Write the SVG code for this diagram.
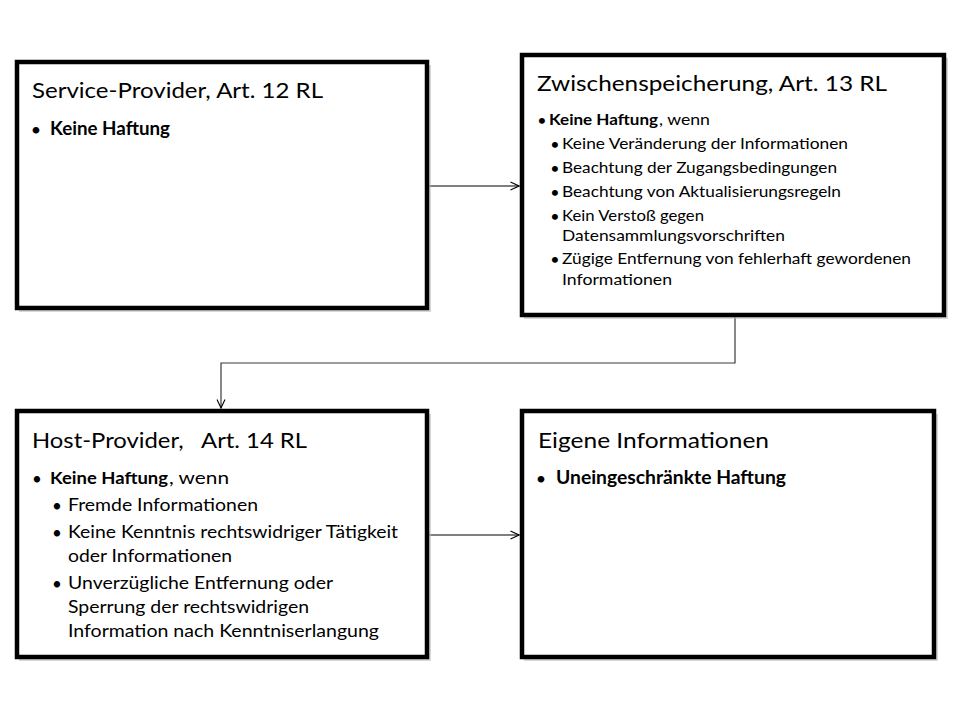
<svg xmlns="http://www.w3.org/2000/svg" width="960" height="720" viewBox="0 0 960 720">
<defs>
<marker id="arr" viewBox="0 0 10 10" refX="9.5" refY="5" markerWidth="10" markerHeight="10" markerUnits="userSpaceOnUse" orient="auto">
<path d="M1,1 L9.5,5 L1,9" fill="none" stroke="#000" stroke-width="1.1"/>
</marker>
</defs>
<style>
.box{fill:#fff;stroke:#000;stroke-width:4.5}
.sh{fill:#bdbdbd;opacity:0.6}
.t{font-family:Lato,"Liberation Sans",sans-serif;fill:#000}
.title{font-size:22px}
.b{font-weight:bold}
.s16{font-size:16px}
.s17{font-size:17px}
.s18{font-size:18px}
.con{fill:none;stroke:#000;stroke-width:1.2}
.con2{fill:none;stroke:#3a3a3a;stroke-width:1.2}
</style>
<rect width="960" height="720" fill="#fff"/>

<g id="connectors">
<line class="con" x1="429" y1="186" x2="519" y2="186" marker-end="url(#arr)"/>
<path class="con2" d="M735,317 V363 H221 V408" marker-end="url(#arr)"/>
<line class="con" x1="429" y1="535" x2="519" y2="535" marker-end="url(#arr)"/>
</g>

<g id="service-provider">
<rect class="sh" x="19" y="65" width="412" height="247"/>
<rect class="box" x="17" y="62" width="410" height="246"/>
<text class="t title" x="32" y="98" textLength="291" lengthAdjust="spacingAndGlyphs">Service-Provider, Art. 12 RL</text>
<text class="t s18" x="36" y="136" text-anchor="middle">•</text>
<text class="t s18 b" x="50" y="135" textLength="120" lengthAdjust="spacingAndGlyphs">Keine Haftung</text>
</g>

<g id="zwischenspeicherung">
<rect class="sh" x="524" y="58" width="424" height="261"/>
<rect class="box" x="522" y="55" width="422" height="260"/>
<text class="t title" x="537" y="91" textLength="350" lengthAdjust="spacingAndGlyphs">Zwischenspeicherung, Art. 13 RL</text>
<text class="t s16" x="542" y="126" text-anchor="middle">•</text>
<text class="t s16 b" x="549" y="125" textLength="109" lengthAdjust="spacingAndGlyphs">Keine Haftung</text>
<text class="t s16" x="659" y="125" textLength="51" lengthAdjust="spacingAndGlyphs">, wenn</text>
<g class="t s16">
<text x="555" y="150" text-anchor="middle">•</text>
<text x="562" y="149" textLength="286" lengthAdjust="spacingAndGlyphs">Keine Veränderung der Informationen</text>
<text x="555" y="174" text-anchor="middle">•</text>
<text x="562" y="173" textLength="275" lengthAdjust="spacingAndGlyphs">Beachtung der Zugangsbedingungen</text>
<text x="555" y="198" text-anchor="middle">•</text>
<text x="562" y="197" textLength="279" lengthAdjust="spacingAndGlyphs">Beachtung von Aktualisierungsregeln</text>
<text x="555" y="222" text-anchor="middle">•</text>
<text x="562" y="221" textLength="142" lengthAdjust="spacingAndGlyphs">Kein Verstoß gegen</text>
<text x="562" y="241" textLength="223" lengthAdjust="spacingAndGlyphs">Datensammlungsvorschriften</text>
<text x="555" y="265" text-anchor="middle">•</text>
<text x="562" y="264" textLength="349" lengthAdjust="spacingAndGlyphs">Zügige Entfernung von fehlerhaft gewordenen</text>
<text x="562" y="285" textLength="110" lengthAdjust="spacingAndGlyphs">Informationen</text>
</g>
</g>

<g id="host-provider">
<rect class="sh" x="19" y="414" width="412" height="247"/>
<rect class="box" x="17" y="411" width="410" height="246"/>
<text class="t title" x="32" y="448" textLength="275" lengthAdjust="spacingAndGlyphs" xml:space="preserve">Host-Provider,   Art. 14 RL</text>
<text class="t s17" x="37" y="485" text-anchor="middle">•</text>
<text class="t s17 b" x="50" y="484" textLength="118" lengthAdjust="spacingAndGlyphs">Keine Haftung</text>
<text class="t s17" x="169" y="484" textLength="60" lengthAdjust="spacingAndGlyphs">,  wenn</text>
<g class="t s17">
<text x="57" y="512" text-anchor="middle">•</text>
<text x="68" y="511" textLength="190" lengthAdjust="spacingAndGlyphs">Fremde Informationen</text>
<text x="57" y="539" text-anchor="middle">•</text>
<text x="68" y="538" textLength="330" lengthAdjust="spacingAndGlyphs">Keine Kenntnis rechtswidriger Tätigkeit</text>
<text x="68" y="562" textLength="164" lengthAdjust="spacingAndGlyphs">oder Informationen</text>
<text x="57" y="590" text-anchor="middle">•</text>
<text x="68" y="589" textLength="265" lengthAdjust="spacingAndGlyphs">Unverzügliche Entfernung oder</text>
<text x="68" y="613" textLength="241" lengthAdjust="spacingAndGlyphs">Sperrung der rechtswidrigen</text>
<text x="68" y="637" textLength="311" lengthAdjust="spacingAndGlyphs">Information nach Kenntniserlangung</text>
</g>
</g>

<g id="eigene-informationen">
<rect class="sh" x="524" y="414" width="414" height="247"/>
<rect class="box" x="522" y="411" width="412" height="246"/>
<text class="t title" x="538" y="448" textLength="231" lengthAdjust="spacingAndGlyphs">Eigene Informationen</text>
<text class="t s18" x="541" y="485" text-anchor="middle">•</text>
<text class="t s18 b" x="556" y="484" textLength="230" lengthAdjust="spacingAndGlyphs">Uneingeschränkte Haftung</text>
</g>
</svg>
